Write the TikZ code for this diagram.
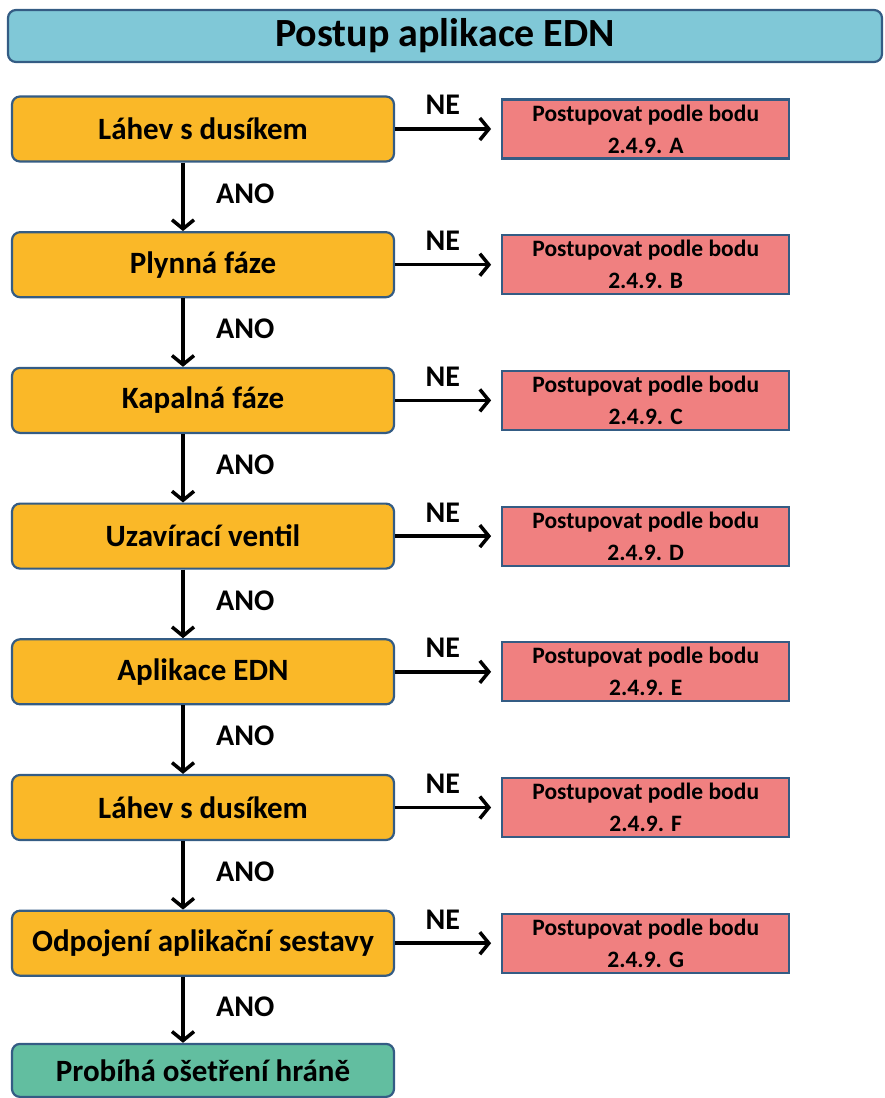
\documentclass[tikz,border=0pt]{standalone}
\usepackage{fontspec}
\setmainfont{Carlito}
\usepackage{xcolor}
\usepackage{tikz}
\usetikzlibrary{arrows.meta,positioning}

\definecolor{edgeblue}{RGB}{52,92,132}
\definecolor{titleblue}{RGB}{128,200,215}
\definecolor{checkorange}{RGB}{250,184,40}
\definecolor{actionred}{RGB}{240,128,128}
\definecolor{donegreen}{RGB}{98,190,160}

\begin{document}
\begin{tikzpicture}[
  x=1pt, y=-1pt,
  box/.style={draw=edgeblue, line width=2.2pt, rounded corners=8pt, align=center,
    font=\bfseries\fontsize{31}{36}\selectfont},
  heading/.style={box, fill=titleblue, minimum width=874pt, minimum height=52pt,
    font=\bfseries\fontsize{40}{46}\selectfont},
  check/.style={box, fill=checkorange, minimum width=382pt, minimum height=65pt},
  done/.style={box, fill=donegreen, minimum width=382pt, minimum height=53pt},
  action/.style={draw=edgeblue, line width=2.2pt, fill=actionred, align=center,
    minimum width=287pt, minimum height=59pt, inner sep=1pt,
    font=\bfseries\fontsize{23.5}{32}\selectfont},
  lbl/.style={font=\bfseries\fontsize{30}{34}\selectfont},
  arr/.style={-{Straight Barb[length=9pt, width=22pt, line width=3.5pt]}, line width=3.5pt},
  node distance=68.5pt and 106pt,
]
\useasboundingbox (0,0) rectangle (885,1098);

% Title
\node[heading] (head) at (445,36) {Postup aplikace EDN};

% Checks (left column)
\node[check] (lahev) at (203,129) {Láhev s dusíkem};
\node[check, below=of lahev] (plyn) {Plynná fáze};
\node[check, below=of plyn] (kapal) {Kapalná fáze};
\node[check, below=of kapal] (ventil) {Uzavírací ventil};
\node[check, below=of ventil] (aplik) {Aplikace EDN};
\node[check, below=of aplik] (lahev2) {Láhev s dusíkem};
\node[check, below=of lahev2] (odpoj) {Odpojení aplikační sestavy};
\node[done, below=66pt of odpoj] (osetr) {Probíhá ošetření hráně};

% Actions (right column)
\node[action, right=of lahev] (bodA) {Postupovat podle bodu\\2.4.9. A};
\node[action, right=of plyn] (bodB) {Postupovat podle bodu\\2.4.9. B};
\node[action, right=of kapal] (bodC) {Postupovat podle bodu\\2.4.9. C};
\node[action, right=of ventil] (bodD) {Postupovat podle bodu\\2.4.9. D};
\node[action, right=of aplik] (bodE) {Postupovat podle bodu\\2.4.9. E};
\node[action, right=of lahev2] (bodF) {Postupovat podle bodu\\2.4.9. F};
\node[action, right=of odpoj] (bodG) {Postupovat podle bodu\\2.4.9. G};

% NE arrows
\draw[arr, shorten >=10pt] (lahev) -- node[lbl, above=9pt, pos=0.45] {NE} (bodA);
\draw[arr, shorten >=10pt] (plyn) -- node[lbl, above=9pt, pos=0.45] {NE} (bodB);
\draw[arr, shorten >=10pt] (kapal) -- node[lbl, above=9pt, pos=0.45] {NE} (bodC);
\draw[arr, shorten >=10pt] (ventil) -- node[lbl, above=9pt, pos=0.45] {NE} (bodD);
\draw[arr, shorten >=10pt] (aplik) -- node[lbl, above=9pt, pos=0.45] {NE} (bodE);
\draw[arr, shorten >=10pt] (lahev2) -- node[lbl, above=9pt, pos=0.45] {NE} (bodF);
\draw[arr, shorten >=10pt] (odpoj) -- node[lbl, above=9pt, pos=0.45] {NE} (bodG);

% ANO arrows
\draw[arr] ([xshift=-20pt]lahev.south) -- node[lbl, right=28pt, pos=0.45] {ANO} ([xshift=-20pt]plyn.north);
\draw[arr] ([xshift=-20pt]plyn.south) -- node[lbl, right=28pt, pos=0.45] {ANO} ([xshift=-20pt]kapal.north);
\draw[arr] ([xshift=-20pt]kapal.south) -- node[lbl, right=28pt, pos=0.45] {ANO} ([xshift=-20pt]ventil.north);
\draw[arr] ([xshift=-20pt]ventil.south) -- node[lbl, right=28pt, pos=0.45] {ANO} ([xshift=-20pt]aplik.north);
\draw[arr] ([xshift=-20pt]aplik.south) -- node[lbl, right=28pt, pos=0.45] {ANO} ([xshift=-20pt]lahev2.north);
\draw[arr] ([xshift=-20pt]lahev2.south) -- node[lbl, right=28pt, pos=0.45] {ANO} ([xshift=-20pt]odpoj.north);
\draw[arr] ([xshift=-20pt]odpoj.south) -- node[lbl, right=28pt, pos=0.45] {ANO} ([xshift=-20pt]osetr.north);

\end{tikzpicture}
\end{document}
